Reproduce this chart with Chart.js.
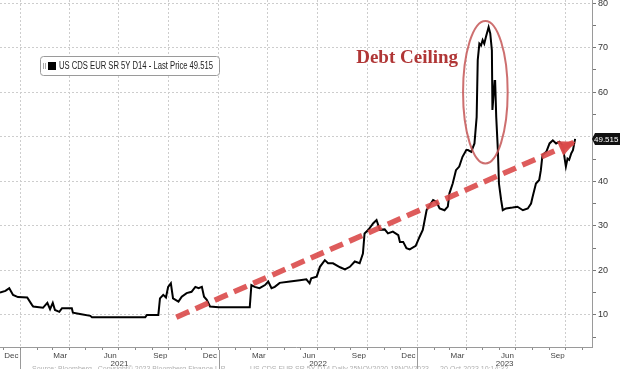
<!DOCTYPE html>
<html>
<head>
<meta charset="utf-8">
<script src="https://cdn.jsdelivr.net/npm/chart.js@4.4.0/dist/chart.umd.min.js"></script>
<style>
  html, body { margin: 0; padding: 0; background: #fff; }
  #chart { display: block; }
</style>
</head>
<body>
<canvas id="chart" width="620" height="369"></canvas>
<script>
// US CDS EUR SR 5Y D14
const dates = [
  '2020-11-25', '2020-12-05', '2020-12-12', '2020-12-19', '2020-12-28',
  '2021-01-14', '2021-01-23', '2021-01-25', '2021-02-12', '2021-02-20',
  '2021-02-25', '2021-03-02', '2021-03-06', '2021-03-14', '2021-03-19',
  '2021-04-06', '2021-04-08', '2021-04-21', '2021-05-10', '2021-05-13',
  '2021-08-19', '2021-08-22', '2021-09-12', '2021-09-15', '2021-09-21',
  '2021-09-26', '2021-09-30', '2021-10-05', '2021-10-09', '2021-10-19',
  '2021-10-25', '2021-11-03', '2021-11-12', '2021-11-19', '2021-11-25',
  '2021-12-01', '2021-12-05', '2021-12-10', '2021-12-16', '2022-01-01',
  '2022-02-27', '2022-03-02', '2022-03-08', '2022-03-17', '2022-03-27',
  '2022-04-02', '2022-04-08', '2022-04-14', '2022-04-23', '2022-05-12',
  '2022-05-30', '2022-06-11', '2022-06-17', '2022-06-20', '2022-06-30',
  '2022-07-06', '2022-07-15', '2022-07-21', '2022-07-30', '2022-08-12',
  '2022-08-21', '2022-08-30', '2022-09-08', '2022-09-17', '2022-09-23',
  '2022-09-26', '2022-10-03', '2022-10-12', '2022-10-18', '2022-10-24',
  '2022-11-02', '2022-11-08', '2022-11-17', '2022-11-27', '2022-11-30',
  '2022-12-06', '2022-12-12', '2022-12-18', '2022-12-29', '2023-01-05',
  '2023-01-11', '2023-01-18', '2023-01-30', '2023-02-05', '2023-02-11',
  '2023-02-20', '2023-02-26', '2023-03-01', '2023-03-07', '2023-03-13',
  '2023-03-19', '2023-03-25', '2023-04-01', '2023-04-04', '2023-04-10',
  '2023-04-16', '2023-04-20', '2023-04-22', '2023-04-25', '2023-04-28',
  '2023-05-01', '2023-05-04', '2023-05-07', '2023-05-12', '2023-05-15',
  '2023-05-18', '2023-05-19', '2023-05-23', '2023-05-24', '2023-05-26',
  '2023-05-29', '2023-05-31', '2023-06-04', '2023-06-07', '2023-06-13',
  '2023-06-25', '2023-07-04', '2023-07-14', '2023-07-23', '2023-07-29',
  '2023-08-01', '2023-08-07', '2023-08-13', '2023-08-16', '2023-08-19',
  '2023-08-26', '2023-09-01', '2023-09-07', '2023-09-13', '2023-09-19',
  '2023-09-25', '2023-10-01', '2023-10-04', '2023-10-07', '2023-10-11',
  '2023-10-14', '2023-10-18'
];
const cds = [
  15.0, 15.4, 16.0, 14.5, 14.0,
  13.9, 12.2, 11.9, 11.6, 12.7,
  11.3, 12.7, 11.1, 10.7, 11.5,
  11.5, 10.5, 10.2, 9.8, 9.5,
  9.5, 10.0, 10.0, 13.7, 14.5,
  13.9, 16.3, 17.1, 13.7, 13.0,
  14.1, 14.9, 15.2, 16.3, 16.0,
  16.3, 14.1, 13.4, 11.9, 11.7,
  11.7, 16.7, 16.3, 16.0, 16.7,
  17.5, 16.0, 16.3, 17.2, 17.5,
  17.8, 18.0, 17.1, 18.2, 18.6,
  20.8, 22.3, 21.6, 21.6, 20.7,
  20.2, 20.8, 22.0, 21.6, 23.8,
  28.3, 29.1, 30.6, 31.3, 29.1,
  29.2, 28.3, 28.7, 27.9, 26.4,
  26.4, 25.0, 24.7, 25.5, 27.5,
  29.1, 33.5, 35.8, 35.4, 33.9,
  33.5, 34.3, 37.3, 39.5, 42.5,
  43.3, 45.5, 47.0, 47.0, 46.6,
  48.5, 54.4, 67.2, 70.9, 70.5,
  71.7, 70.9, 72.4, 74.6, 73.2,
  69.4, 56.0, 62.5, 62.5, 54.4,
  47.0, 39.5, 35.8, 33.5, 33.9,
  34.1, 34.3, 33.5, 33.9, 35.0,
  36.6, 39.5, 40.3, 42.5, 45.9,
  46.6, 48.5, 49.2, 48.5, 48.9,
  48.1, 43.3, 45.1, 44.8, 46.3,
  47.0, 49.515
];

// red trend arrow: start and tip
const trendDates = ['2021-10-15', '2023-10-19'];
const trendValues = [9.5, 48.9];

// axis text
const monthNames = ['Jan', 'Feb', 'Mar', 'Apr', 'May', 'Jun', 'Jul', 'Aug', 'Sep', 'Oct', 'Nov', 'Dec'];
const labelMonths = ['Dec', 'Mar', 'Jun', 'Sep'];
const gridMonths = ['Jan', 'Apr', 'Jul', 'Oct'];
const yearLabels = ['2021', '2022', '2023'];
const yLabelValues = [10, 20, 30, 40, 50, 60, 70, 80];
const yMinorValues = [5, 15, 25, 35, 45, 55, 65, 75];

const xRange = ['2020-11-25', '2023-11-18'];
const yRange = [2.8, 80.7];

const seriesName = 'US CDS EUR SR 5Y D14 - Last Price';
const calloutText = 'Debt Ceiling';
const footerText = [
  'Source: Bloomberg   Copyright\u00a9 2023 Bloomberg Finance L.P.',
  'US CDS EUR SR 5Y D14 Daily 25NOV2020-18NOV2023',
  '20-Oct-2023 10:14:32'
];

const DAY = 86400000;
const T0 = Date.UTC(2021, 0, 1);
const toDay = s => (Date.parse(s) - T0) / DAY;
const xMin = toDay(xRange[0]);
const xMax = toDay(xRange[1]);

// month starts inside the range
const monthTicks = [];
for (let yr = 2020, m = 0; yr < 2024; m++) {
  if (m === 12) { m = 0; yr++; }
  const v = (Date.UTC(yr, m, 1) - T0) / DAY;
  if (v > xMax) break;
  if (v >= xMin) monthTicks.push({ value: v, name: monthNames[m] });
}

const yearStarts = yearLabels.map(y => toDay(y + '-01-01'));
const yearCenters = yearLabels.map(y => {
  const a = Math.max(toDay(y + '-01-01'), xMin);
  const b = Math.min(toDay((+y + 1) + '-01-01'), xMax);
  return (a + b) / 2;
});

Chart.defaults.font.family = '"Liberation Sans", Arial, sans-serif';

const GRID = '#cdcdcd';
const NONE = 'rgba(0,0,0,0)';

const overlay = {
  id: 'overlay',
  afterDatasetsDraw(chart) {
    const { ctx, scales: { x, y } } = chart;
    ctx.save();

    // ellipse around the spike
    const cx = x.getPixelForValue(toDay('2023-05-06'));
    const cy = y.getPixelForValue(60);
    const rx = x.getPixelForValue(toDay('2023-05-06') + 41) - cx;
    const ry = cy - y.getPixelForValue(76);
    ctx.strokeStyle = 'rgba(196,86,86,0.85)';
    ctx.lineWidth = 2;
    ctx.beginPath();
    ctx.ellipse(cx, cy, rx, ry, 0, 0, Math.PI * 2);
    ctx.stroke();

    ctx.font = 'bold 19px "Liberation Serif", "Times New Roman", serif';
    ctx.fillStyle = '#b03636';
    ctx.textAlign = 'right';
    ctx.textBaseline = 'alphabetic';
    ctx.fillText(calloutText, cx - rx - 5, 63);

    // arrow head
    const pts = chart.getDatasetMeta(1).data;
    const p0 = pts[0], p1 = pts[pts.length - 1];
    const ang = Math.atan2(p1.y - p0.y, p1.x - p0.x);
    const len = 17, half = 8;
    ctx.fillStyle = 'rgba(218,74,74,0.95)';
    ctx.beginPath();
    ctx.moveTo(p1.x, p1.y);
    ctx.lineTo(p1.x - len * Math.cos(ang) + half * Math.sin(ang), p1.y - len * Math.sin(ang) - half * Math.cos(ang));
    ctx.lineTo(p1.x - len * Math.cos(ang) - half * Math.sin(ang), p1.y - len * Math.sin(ang) + half * Math.cos(ang));
    ctx.closePath();
    ctx.fill();

    // legend box
    ctx.fillStyle = '#fff';
    ctx.strokeStyle = '#9a9a9a';
    ctx.lineWidth = 1;
    ctx.beginPath();
    ctx.roundRect(40.5, 56.5, 179, 19, 3);
    ctx.fill();
    ctx.stroke();
    ctx.fillStyle = '#aaa';
    ctx.fillRect(43, 63, 1, 6);
    ctx.fillRect(45, 63, 1, 6);
    ctx.fillStyle = '#000';
    ctx.fillRect(48, 62, 8, 8);
    const last = cds[cds.length - 1];
    const txt = seriesName + ' ' + last.toFixed(3);
    ctx.font = '10px "Liberation Sans", Arial, sans-serif';
    ctx.fillStyle = '#222';
    ctx.textAlign = 'left';
    ctx.textBaseline = 'middle';
    const w = ctx.measureText(txt).width;
    ctx.save();
    ctx.translate(59, 66.5);
    ctx.scale(154 / w, 1);
    ctx.fillText(txt, 0, 0);
    ctx.restore();

    ctx.restore();
  },
  afterDraw(chart) {
    const { ctx, chartArea: a, scales: { x, y } } = chart;
    ctx.save();
    // year separators
    ctx.strokeStyle = '#9a9a9a';
    ctx.lineWidth = 1;
    yearStarts.forEach(v => {
      const px = Math.round(x.getPixelForValue(v)) + 0.5;
      ctx.beginPath();
      ctx.moveTo(px, a.bottom + 3);
      ctx.lineTo(px, 369);
      ctx.stroke();
    });
    // last price tag
    const last = cds[cds.length - 1];
    const py = y.getPixelForValue(last);
    ctx.fillStyle = '#111';
    ctx.beginPath();
    ctx.moveTo(a.right, py);
    ctx.lineTo(a.right + 3, py - 6);
    ctx.lineTo(620, py - 6);
    ctx.lineTo(620, py + 6);
    ctx.lineTo(a.right + 3, py + 6);
    ctx.closePath();
    ctx.fill();
    ctx.fillStyle = '#fff';
    ctx.font = '8px "Liberation Sans", Arial, sans-serif';
    ctx.textAlign = 'left';
    ctx.textBaseline = 'middle';
    ctx.fillText(last.toFixed(3), a.right + 2, py + 0.5);
    // footer, cut by the page edge
    ctx.fillStyle = '#b0b0b0';
    ctx.font = '7px "Liberation Sans", Arial, sans-serif';
    ctx.textBaseline = 'top';
    ctx.fillText(footerText[0], 32, 366);
    ctx.fillText(footerText[1], 250, 366);
    ctx.fillText(footerText[2], 440, 366);
    ctx.restore();
  }
};

new Chart(document.getElementById('chart'), {
  type: 'line',
  data: {
    datasets: [
      {
        data: dates.map((d, i) => ({ x: toDay(d), y: cds[i] })),
        borderColor: '#000',
        borderWidth: 2,
        pointRadius: 0,
        tension: 0,
        order: 1
      },
      {
        data: trendDates.map((d, i) => ({ x: toDay(d), y: trendValues[i] })),
        borderColor: 'rgba(218,74,74,0.9)',
        borderWidth: 5.5,
        borderDash: [14, 7],
        borderCapStyle: 'butt',
        pointRadius: 0,
        order: 0
      }
    ]
  },
  options: {
    responsive: false,
    animation: false,
    layout: { padding: 0 },
    plugins: { legend: { display: false }, tooltip: { enabled: false } },
    scales: {
      x: {
        type: 'linear',
        position: 'bottom',
        min: xMin,
        max: xMax,
        weight: 0,
        afterBuildTicks: s => { s.ticks = monthTicks.map(t => ({ value: t.value })); },
        afterFit: s => { s.height = 12; s.paddingLeft = 0; s.paddingRight = 0; },
        ticks: {
          autoSkip: false,
          maxRotation: 0,
          minRotation: 0,
          padding: 1,
          labelOffset: 8,
          color: '#444',
          font: { size: 8 },
          callback: (v, i) => labelMonths.includes(monthTicks[i].name) ? monthTicks[i].name : ''
        },
        grid: {
          color: c => (c.tick && gridMonths.includes(monthTicks[c.index].name)) ? GRID : NONE,
          tickColor: '#8a8a8a',
          tickLength: 3,
          lineWidth: 1
        },
        border: { display: true, color: '#9a9a9a', dash: [2, 2] }
      },
      xYear: {
        type: 'linear',
        position: 'bottom',
        min: xMin,
        max: xMax,
        weight: 1,
        afterBuildTicks: s => { s.ticks = yearCenters.map(v => ({ value: v })); },
        afterFit: s => { s.height = 10; s.paddingLeft = 0; s.paddingRight = 0; },
        ticks: {
          autoSkip: false,
          maxRotation: 0,
          minRotation: 0,
          padding: 0,
          color: '#444',
          font: { size: 8 },
          callback: (v, i) => yearLabels[i]
        },
        grid: { display: false, drawTicks: false },
        border: { display: false }
      },
      y: {
        type: 'linear',
        position: 'right',
        min: yRange[0],
        max: yRange[1],
        afterBuildTicks: s => {
          s.ticks = yMinorValues.concat(yLabelValues).sort((a, b) => a - b).map(v => ({ value: v }));
        },
        afterFit: s => { s.width = 28; s.paddingTop = 0; s.paddingBottom = 0; },
        ticks: {
          padding: 2,
          color: '#333',
          font: { size: 9 },
          callback: v => yLabelValues.includes(v) ? String(v) : ''
        },
        grid: {
          color: c => (c.tick && yLabelValues.includes(c.tick.value)) ? GRID : NONE,
          tickColor: '#777',
          tickLength: 4,
          lineWidth: 1
        },
        border: { display: true, color: '#9a9a9a', dash: [2, 2] }
      }
    }
  },
  plugins: [overlay]
});
</script>
</body>
</html>
